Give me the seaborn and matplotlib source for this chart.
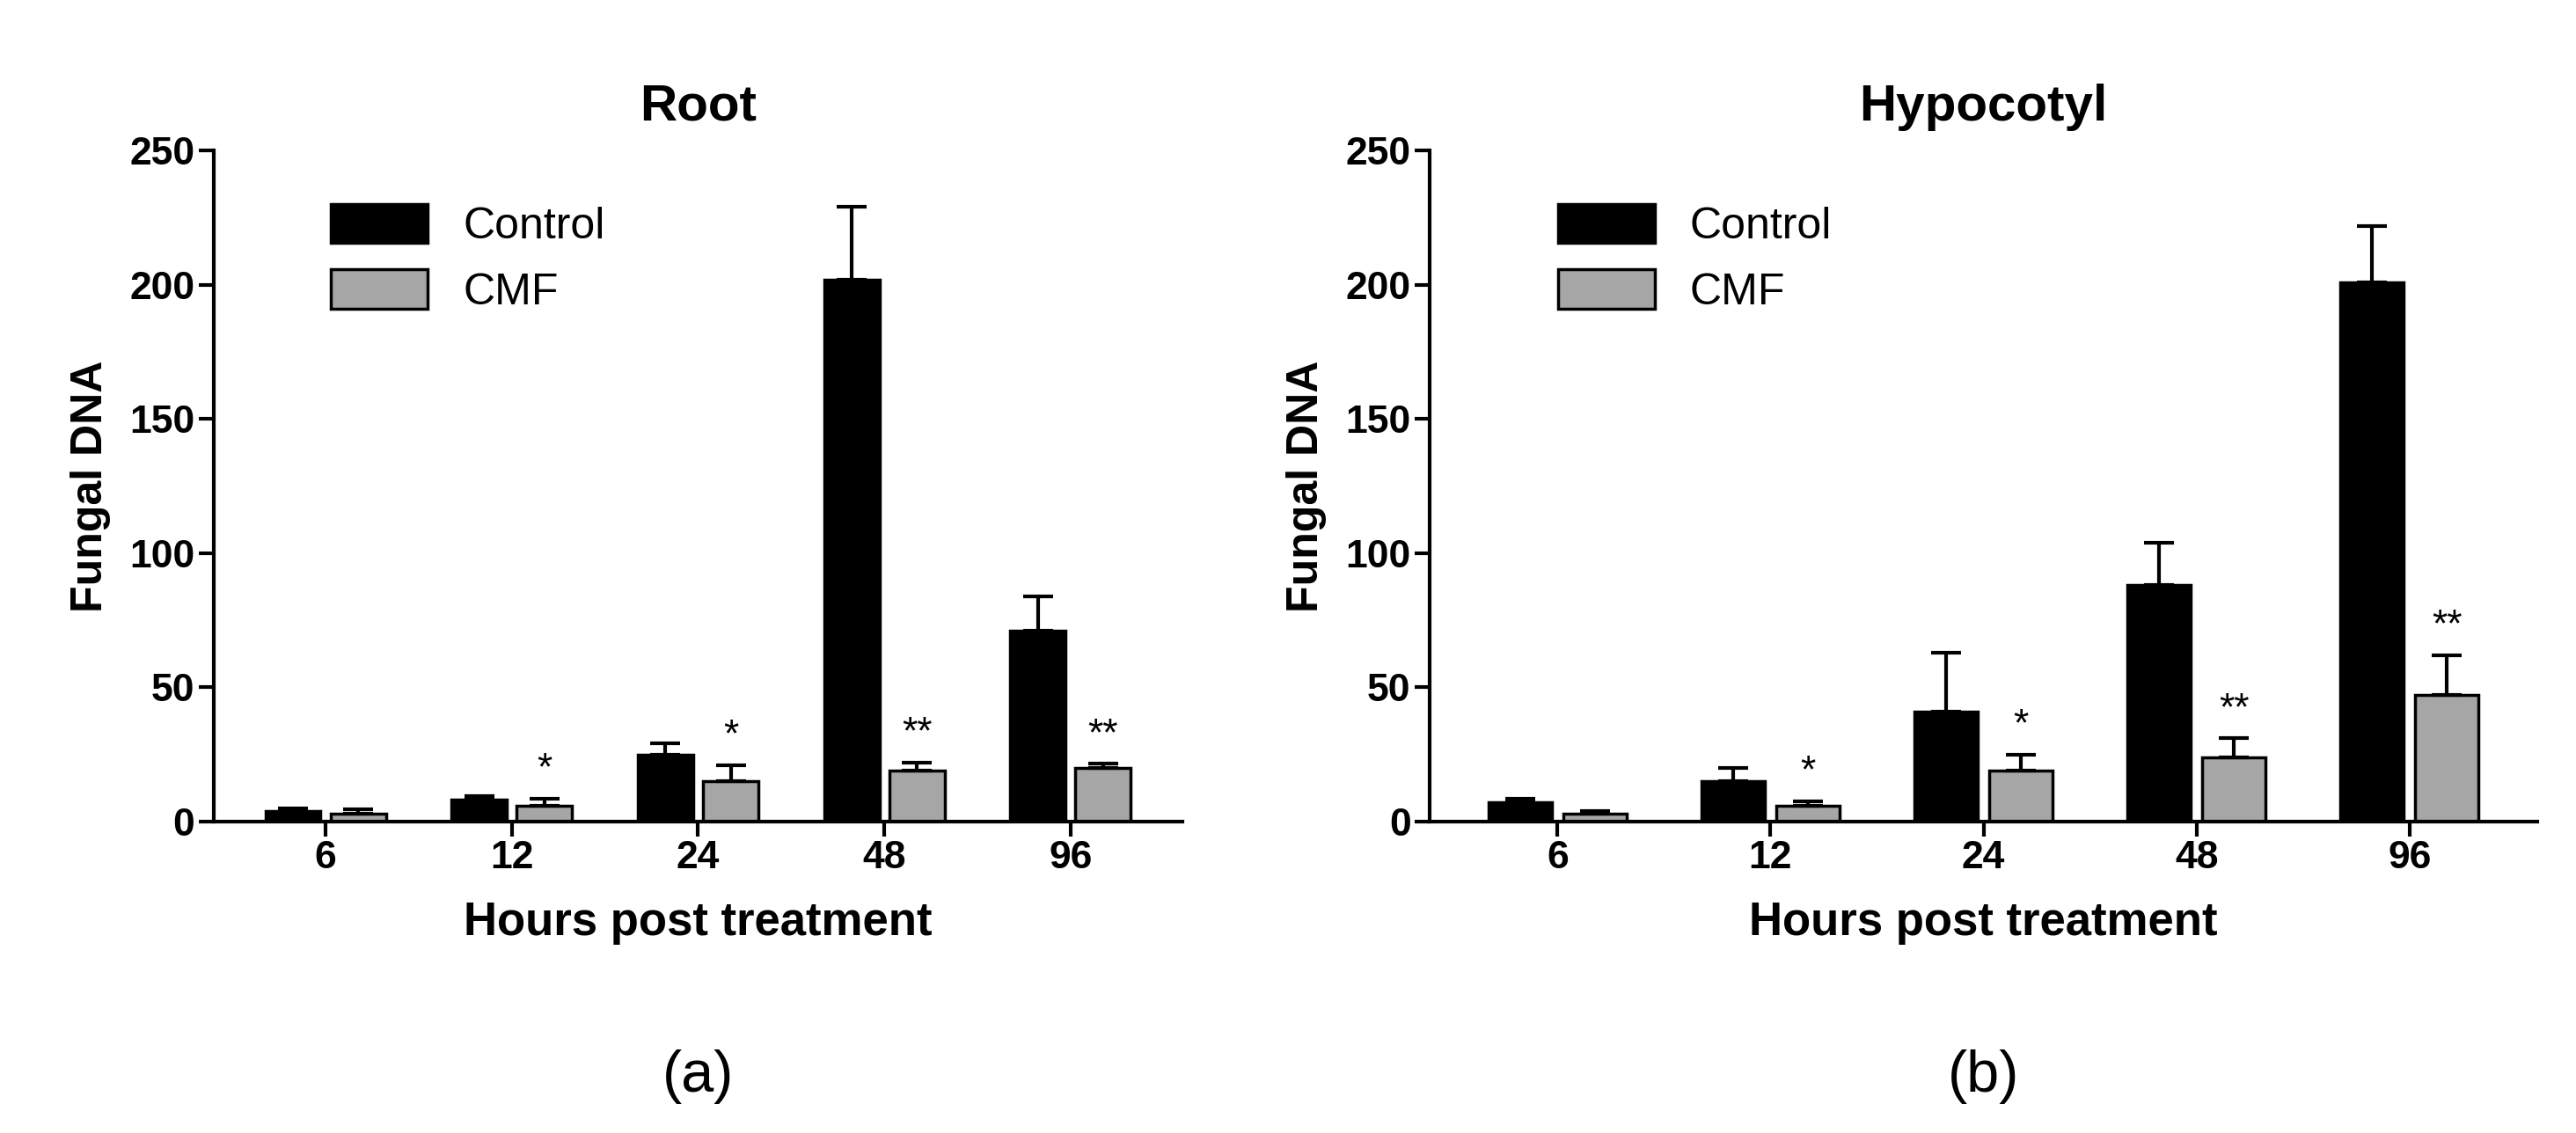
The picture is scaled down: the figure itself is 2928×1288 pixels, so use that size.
import matplotlib
matplotlib.use("Agg")
import matplotlib.pyplot as plt
import seaborn as sns
import pandas as pd
import numpy as np

hours = ["6", "12", "24", "48", "96"]
root_control = [4, 8, 25, 202, 71]
root_control_err = [1, 1.5, 4, 27, 13]
root_cmf = [3, 6, 15, 19, 20]
root_cmf_err = [1.5, 2.5, 6, 3, 1.5]
hyp_control = [7, 15, 41, 88, 201]
hyp_control_err = [1.5, 5, 22, 16, 21]
hyp_cmf = [3, 6, 19, 24, 47]
hyp_cmf_err = [1, 1.5, 6, 7, 15]
stars = ["", "*", "*", "**", "**"]

sns.set_style("ticks")
plt.rcParams['font.family'] = ['Liberation Sans', 'DejaVu Sans']
for k in ["text.color", "axes.labelcolor", "xtick.color", "ytick.color", "axes.edgecolor"]:
    plt.rcParams[k] = "black"

fig = plt.figure(figsize=(29.28, 12.88), dpi=100)
axes = [fig.add_axes([0.083, 0.275, 0.376, 0.592]),
        fig.add_axes([0.555, 0.275, 0.43, 0.592])]

panels = [("Root", root_control, root_control_err, root_cmf, root_cmf_err, "(a)"),
          ("Hypocotyl", hyp_control, hyp_control_err, hyp_cmf, hyp_cmf_err, "(b)")]

for ax, (title, c, ce, m, me, lab) in zip(axes, panels):
    df = pd.DataFrame({"Hours": hours * 2,
                       "val": c + m,
                       "grp": ["Control"] * 5 + ["CMF"] * 5})
    sns.barplot(data=df, x="Hours", y="val", hue="grp", order=hours,
                palette={"Control": "black", "CMF": "#a6a6a6"},
                edgecolor="black", linewidth=2.5, width=0.7, gap=0.15,
                errorbar=None, ax=ax)
    bars = [p for p in ax.patches if p.get_height() > 0][:10]
    errs = ce + me
    vals = c + m
    for i, p in enumerate(bars):
        x = p.get_x() + p.get_width() / 2
        ax.errorbar([x], [vals[i]], yerr=[[0], [errs[i]]], fmt="none",
                    ecolor="black", elinewidth=3, capsize=12, capthick=3)
        if i >= 5 and stars[i - 5]:
            ax.text(x, vals[i] + errs[i] + 4, stars[i - 5], ha="center",
                    va="bottom", fontsize=32)
    ax.set_ylim(0, 250)
    ax.set_yticks([0, 50, 100, 150, 200, 250])
    ax.set_xlim(-0.6, 4.6)
    sns.despine(ax=ax)
    for s in ["left", "bottom"]:
        ax.spines[s].set_linewidth(3)
    ax.tick_params(width=3, length=12, labelsize=32)
    for t in ax.get_xticklabels() + ax.get_yticklabels():
        t.set_fontweight("bold")
    ax.set_title(title, fontsize=42, fontweight="bold", pad=25)
    ax.set_xlabel("Hours post treatment", fontsize=38, fontweight="bold", labelpad=20)
    ax.set_ylabel("Fungal DNA", fontsize=36, fontweight="bold", labelpad=15)
    leg = ax.legend(loc="upper left", bbox_to_anchor=(0.08, 0.98), frameon=False,
                    fontsize=36, handlelength=2.2, handleheight=1.0)
    ax.text(0.5, -0.38, lab, transform=ax.transAxes, ha="center", va="center",
            fontsize=48)

fig.savefig("out.png", dpi=100)
